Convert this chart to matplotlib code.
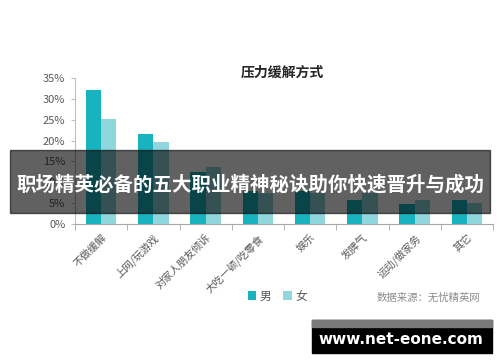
import numpy as np
import matplotlib
matplotlib.use('Agg')
import matplotlib.pyplot as plt
from matplotlib.patches import Rectangle

plt.rcParams['font.family'] = ['Noto Sans CJK SC', 'DejaVu Sans']

# 数据
categories = ['不做缓解', '上网/玩游戏', '对家人朋友倾诉', '大吃一顿/吃零食',
              '娱乐', '发脾气', '运动/做家务', '其它']
male = [32.0, 21.5, 12.5, 8.0, 8.0, 5.8, 4.8, 5.8]
female = [25.2, 19.7, 13.7, 7.5, 7.5, 7.5, 5.8, 5.0]
yticks = [0, 5, 10, 15, 20, 25, 30, 35]

c_male = '#17b3bf'
c_female = '#8fd6dd'
grey = '#595959'

fig = plt.figure(figsize=(5, 3.62), dpi=100)
ax = fig.add_axes([0.15, 0.381, 0.836, 0.404])

x = np.arange(len(categories))
w = 0.29
ax.bar(x - w / 2, male, w, color=c_male, label='男')
ax.bar(x + w / 2, female, w, color=c_female, label='女')

ax.set_xlim(-0.5, len(categories) - 0.5)
ax.set_ylim(0, 35)
ax.set_yticks(yticks)
ax.set_yticklabels([f'{v}%' for v in yticks], fontsize=8, color=grey)
ax.set_xticks(x)
ax.set_xticklabels(categories, rotation=45, ha='right', rotation_mode='anchor',
                   fontsize=7.5, color=grey)
ax.tick_params(axis='x', length=0, pad=6)
ax.tick_params(axis='y', length=3, color='#bfbfbf', pad=4)
# 类别之间的刻度
ax.set_xticks(np.arange(len(categories) + 1) - 0.5, minor=True)
ax.tick_params(axis='x', which='minor', length=4, color='#a6a6a6')

for s in ['top', 'right']:
    ax.spines[s].set_visible(False)
ax.spines['left'].set_color('#bfbfbf')
ax.spines['bottom'].set_color('#a6a6a6')

fig.text(0.564, 0.80, '压力缓解方式', ha='center', va='center',
         fontsize=10, fontweight='bold', color='#262626')

fig.legend(loc='center', bbox_to_anchor=(0.555, 0.182), ncol=2, frameon=False,
           fontsize=8.5, handlelength=0.7, handleheight=0.7, handletextpad=0.3,
           columnspacing=1.0, labelcolor=grey)

fig.text(0.857, 0.178, '数据来源：无忧精英网', ha='center', va='center',
         fontsize=7.5, color='#8c8c8c')

# 标题横幅
fig.patches.append(Rectangle((0.02, 1 - 213 / 362), 0.96, 63 / 362,
                             transform=fig.transFigure, color='black',
                             alpha=0.62, zorder=5))
fig.text(0.5, 1 - 185 / 362, '职场精英必备的五大职业精神秘诀助你快速晋升与成功',
         ha='center', va='center', fontsize=14, fontweight='bold',
         color='white', zorder=6)

# 水印
fig.patches.append(Rectangle((0.624, 1 - 353 / 362), 0.36, 33 / 362,
                             transform=fig.transFigure, color='black', zorder=5))
fig.patches.append(Rectangle((0.624, 1 - 327 / 362), 0.36, 7 / 362,
                             transform=fig.transFigure, color='#7a7a7a', zorder=6))
fig.text(0.802, 1 - 339 / 362, 'www.net-eone.com', ha='center', va='center',
         fontsize=11, fontweight='bold', color='white', zorder=7,
         family=['DejaVu Sans'])

fig.savefig('out.png', dpi=100)
